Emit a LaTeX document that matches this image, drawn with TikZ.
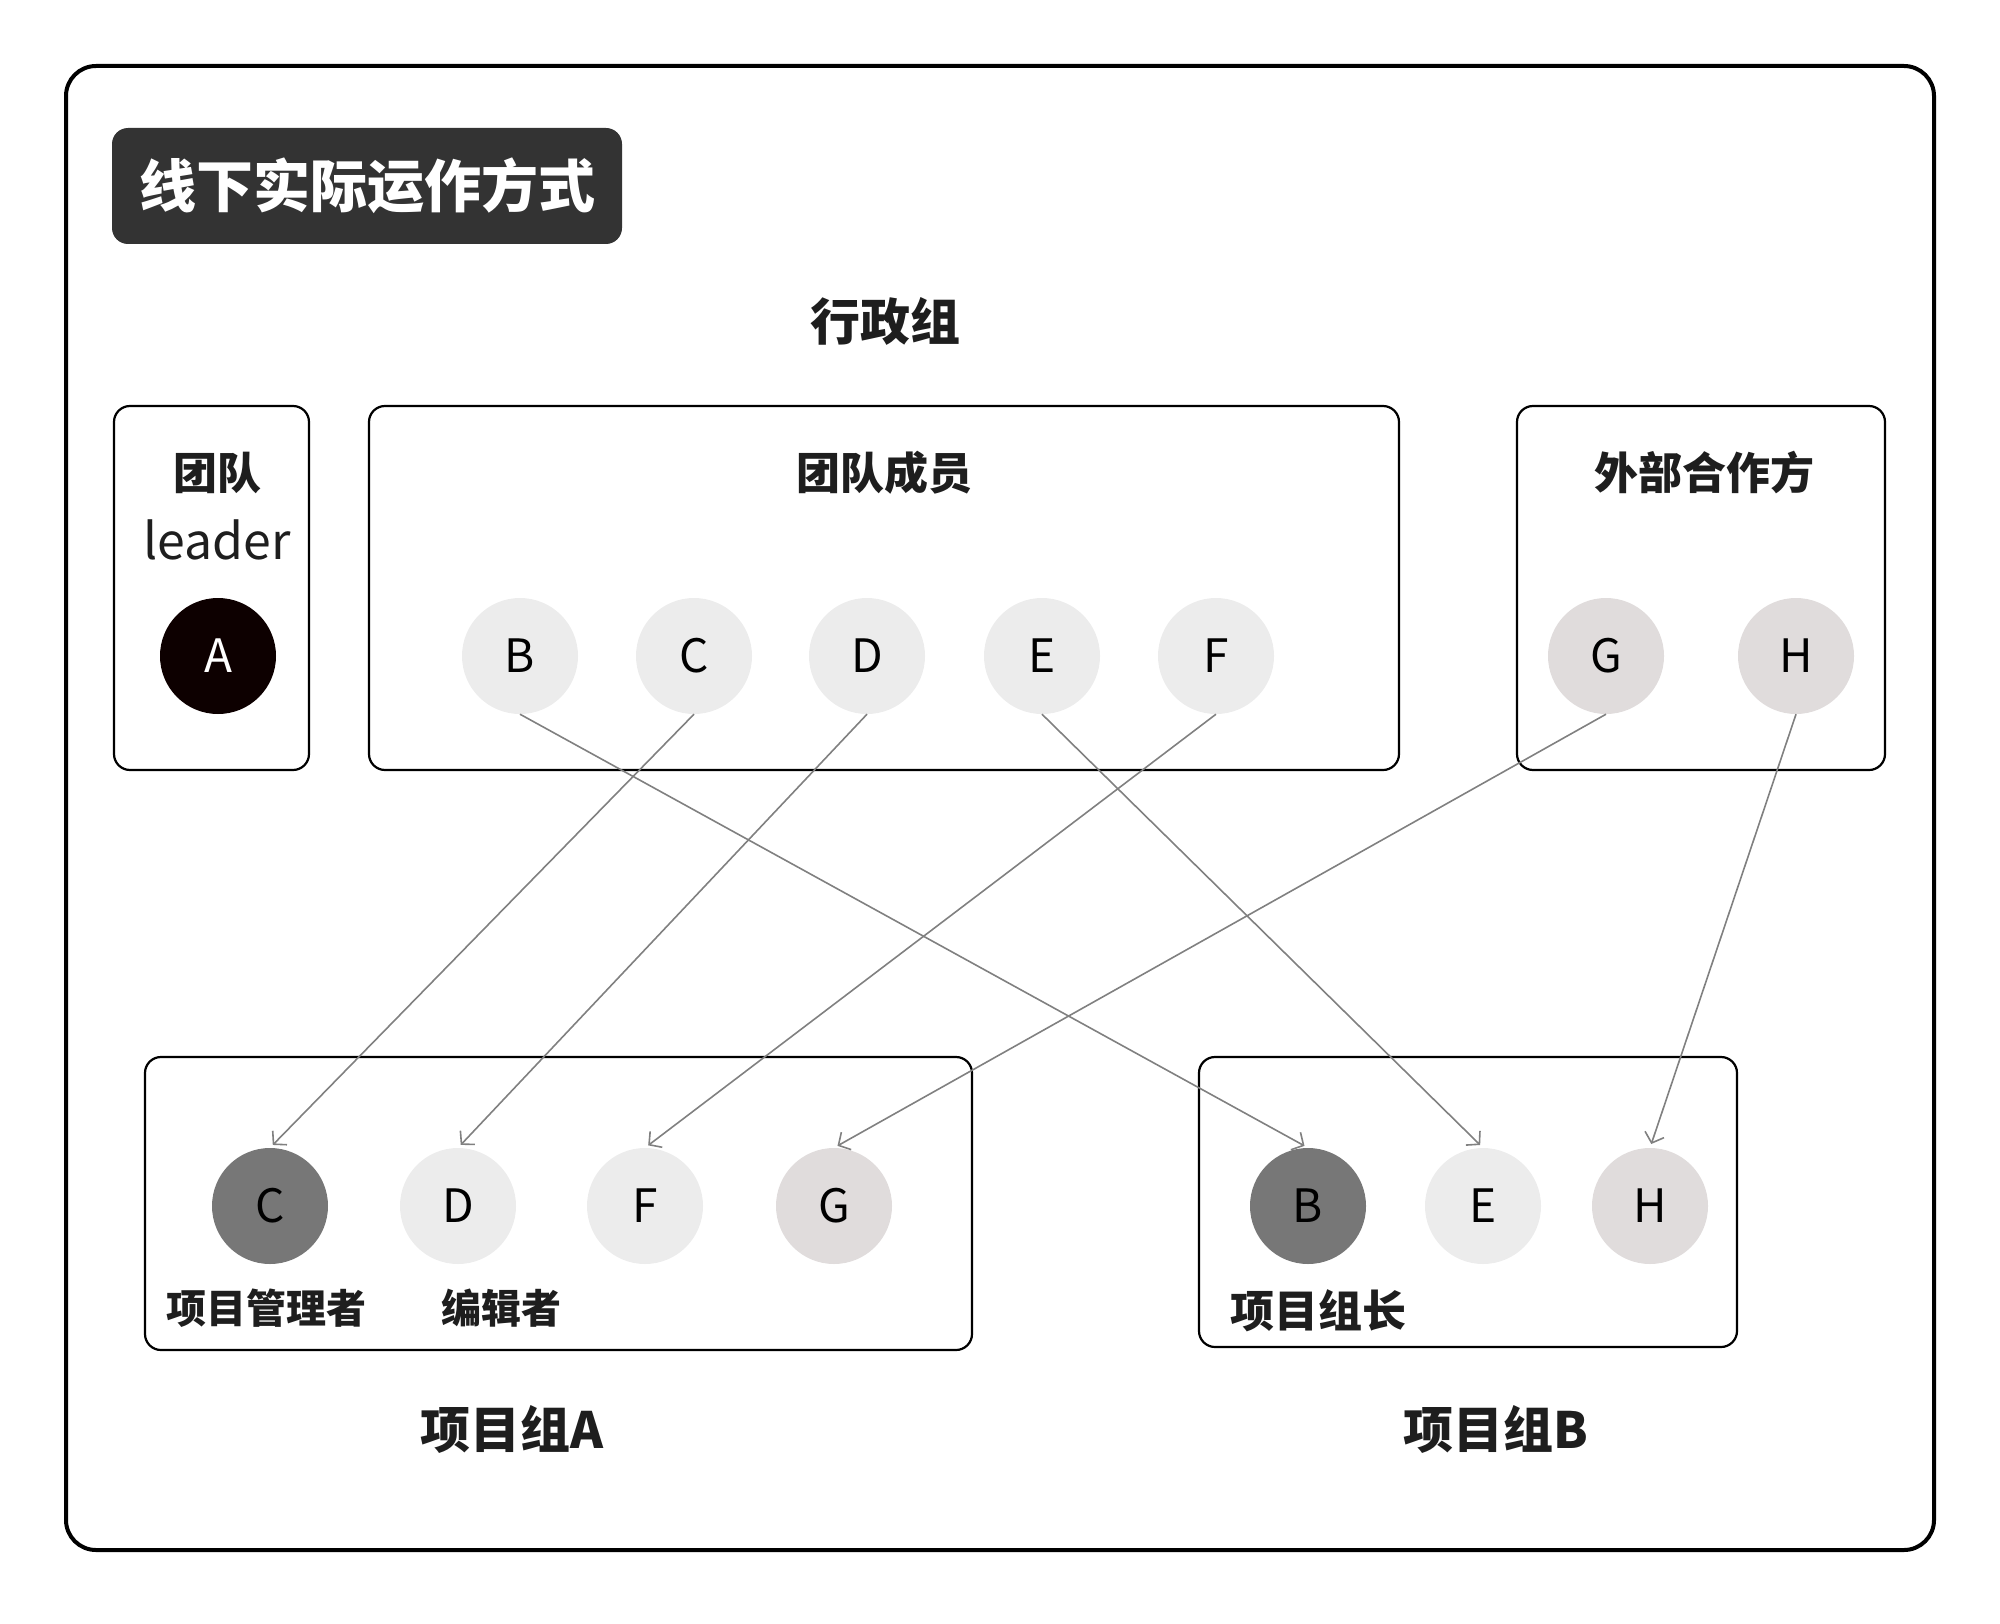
\documentclass[tikz,border=0pt]{standalone}
\usepackage{fontspec}
\setmainfont{Noto Sans CJK SC}
\usetikzlibrary{arrows.meta}
\definecolor{titlebg}{HTML}{333333}
\definecolor{linkgray}{HTML}{808080}
\definecolor{light}{HTML}{ECECEC}
\definecolor{ext}{HTML}{E0DCDC}
\definecolor{dark}{HTML}{777777}
\definecolor{lead}{HTML}{0D0000}
\definecolor{txt}{HTML}{1E1E1E}
\begin{document}
\begin{tikzpicture}[x=1pt,y=-1pt,
  frame/.style={draw=black, line width=4pt, rounded corners=30pt, minimum width=1868pt, minimum height=1484pt, inner sep=0pt},
  grp/.style={draw=black, line width=2.2pt, rounded corners=16pt, inner sep=0pt},
  person/.style={circle, minimum size=116pt, inner sep=0pt, font=\fontsize{46pt}{46pt}\selectfont},
  lbl/.style={inner sep=0pt, text=txt, font=\fontsize{#1}{#1}\selectfont\bfseries},
  link/.style={draw=linkgray, line width=1.6pt, shorten >=4pt, -{Straight Barb[length=9pt,width=20pt,line width=1.6pt]}}
]
\useasboundingbox (0,0) rectangle (2000,1624);
\node[frame] (outer) at (1000,808) {};
\node[fill=titlebg, rounded corners=16pt, minimum width=510pt, minimum height=116pt, inner sep=0pt,
  text=white, font=\fontsize{57pt}{57pt}\selectfont\bfseries] (title) at (367,186) {线下实际运作方式};
\node[lbl=50pt] (admin) at (885,321) {行政组};
% top boxes
\node[grp, minimum width=195pt, minimum height=364pt] (lbox) at (211.5,588) {};
\node[grp, minimum width=1030pt, minimum height=364pt] (mbox) at (884,588) {};
\node[grp, minimum width=368pt, minimum height=364pt] (ebox) at (1701,588) {};
\node[lbl=44pt] (lt) at (217,473) {团队};
\node[inner sep=0pt, text=txt, font=\fontsize{50pt}{50pt}\selectfont] (lt2) at (217,540) {leader};
\node[lbl=44pt] (mt) at (884,473) {团队成员};
\node[lbl=44pt] (et) at (1704,473) {外部合作方};
% top circles
\node[person, fill=lead, text=white] (A) at (218,656) {A};
\node[person, fill=light] (B) at (520,656) {B};
\node[person, fill=light] (C) at (694,656) {C};
\node[person, fill=light] (D) at (867,656) {D};
\node[person, fill=light] (E) at (1042,656) {E};
\node[person, fill=light] (F) at (1216,656) {F};
\node[person, fill=ext] (G) at (1606,656) {G};
\node[person, fill=ext] (H) at (1796,656) {H};
% bottom boxes
\node[grp, minimum width=827pt, minimum height=293pt] (abox) at (558.5,1203.5) {};
\node[grp, minimum width=538pt, minimum height=290pt] (bbox) at (1468,1202) {};
\node[person, fill=dark] (aC) at (270,1206) {C};
\node[person, fill=light] (aD) at (458,1206) {D};
\node[person, fill=light] (aF) at (645,1206) {F};
\node[person, fill=ext] (aG) at (834,1206) {G};
\node[person, fill=dark] (bB) at (1308,1206) {B};
\node[person, fill=light] (bE) at (1483,1206) {E};
\node[person, fill=ext] (bH) at (1650,1206) {H};
\node[lbl=40pt] (pm) at (266,1308) {项目管理者};
\node[lbl=40pt] (ed) at (501,1308) {编辑者};
\node[lbl=44pt] (gl) at (1318,1311) {项目组长};
\node[lbl=50pt] (ga) at (512,1429) {项目组A};
\node[lbl=50pt] (gb) at (1496,1429) {项目组B};
% links
\draw[link] (B.south) -- (bB.north);
\draw[link] (C.south) -- (aC.north);
\draw[link] (D.south) -- (aD.north);
\draw[link] (E.south) -- (bE.north);
\draw[link] (F.south) -- (aF.north);
\draw[link] (G.south) -- (aG.north);
\draw[link] (H.south) -- (bH.north);
\end{tikzpicture}
\end{document}
